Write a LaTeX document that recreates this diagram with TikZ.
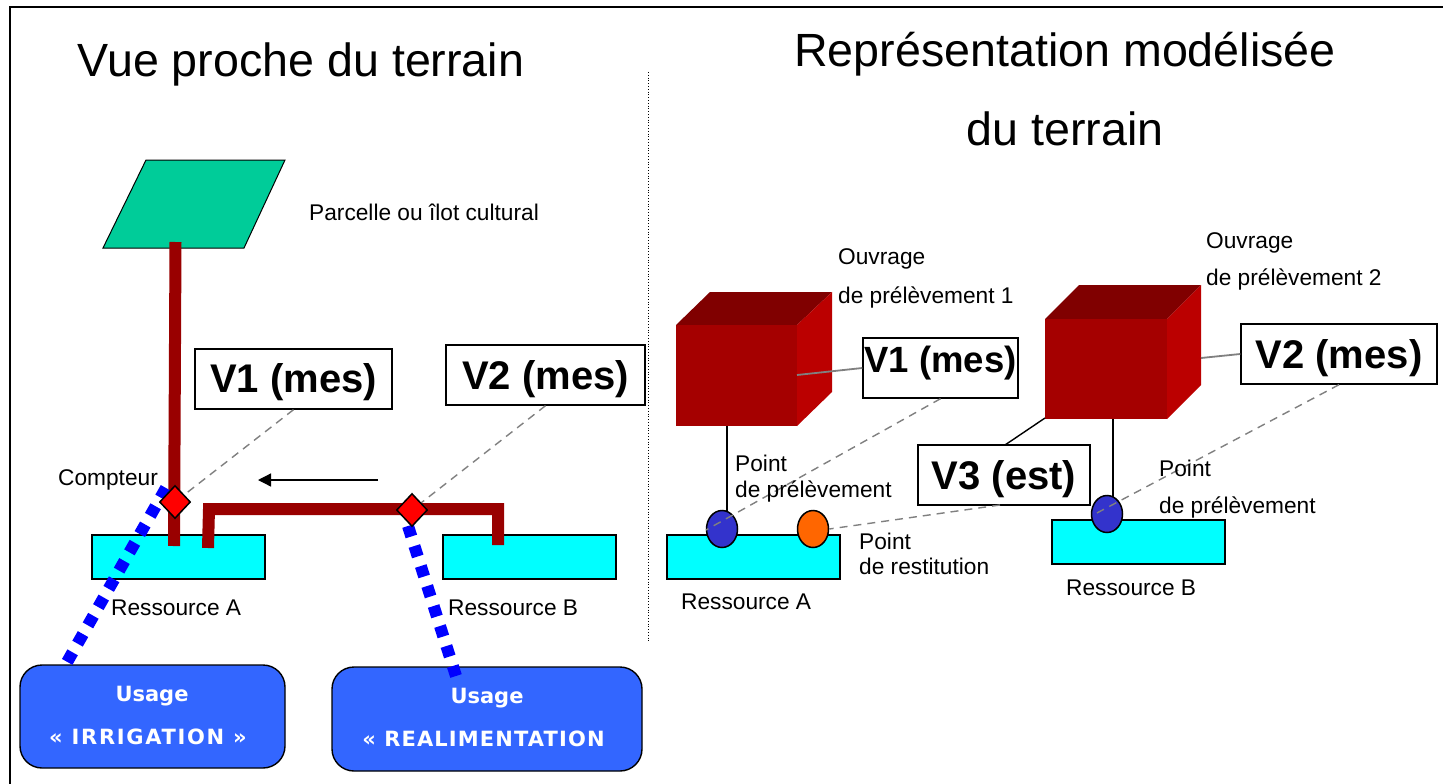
\documentclass[tikz,border=0pt]{standalone}
\usepackage{fontspec}
\setmainfont{Liberation Sans}
\newfontfamily\usagefont{DejaVu Sans}
\usetikzlibrary{shapes.geometric, arrows.meta}
\definecolor{pipered}{HTML}{990000}
\definecolor{parcelgreen}{HTML}{00CC99}
\definecolor{usageblue}{HTML}{3366FF}
\definecolor{pointblue}{HTML}{3333CC}
\definecolor{pointorange}{HTML}{FF6600}
\definecolor{waterblue}{HTML}{00FFFF}
\definecolor{cubefront}{HTML}{A50000}
\definecolor{cubeside}{HTML}{BB0000}
\definecolor{cubetop}{HTML}{800000}
\tikzstyle{title}=[font=\fontsize{46.6}{46.6}\selectfont,inner sep=0pt]
\tikzstyle{label}=[font=\fontsize{22.7}{22.7}\selectfont,anchor=west,inner sep=0pt]
\tikzstyle{resource}=[rectangle,draw=black,line width=2pt,fill=waterblue,minimum width=173,minimum height=44,inner sep=0pt]
\tikzstyle{volume}=[rectangle,draw=black,line width=1.4pt,fill=white,inner sep=0pt,text height=33pt,text depth=5pt,font=\bfseries\fontsize{40}{40}\selectfont]
\tikzstyle{usage}=[rectangle,rounded corners=22,draw=black,line width=1.4pt,fill=usageblue,text=white,inner sep=0pt]
\tikzstyle{usagetext}=[font=\usagefont\bfseries\fontsize{21}{21}\selectfont,text=white,inner sep=0pt]
\tikzstyle{meter}=[diamond,draw=black,line width=1.5pt,fill=red,minimum width=31,minimum height=33,inner sep=0pt]
\tikzstyle{point}=[ellipse,draw=black,line width=1.5pt,minimum width=31,minimum height=37,inner sep=0pt]
\tikzstyle{pipe}=[line width=12pt,draw=pipered]
\tikzstyle{feed}=[line width=12pt,draw=blue,dash pattern=on 11pt off 10pt]
\tikzstyle{link}=[line width=1.4pt,draw=gray,dash pattern=on 8pt off 6pt]
\tikzstyle{wire}=[line width=1.4pt,draw=black]
\tikzstyle{tie}=[line width=1.8pt,draw=gray]
\tikzstyle{arrow}=[line width=1.3pt,-{Triangle[length=13pt,width=13pt]}]

\begin{document}
\begin{tikzpicture}[x=1pt,y=-1pt]
\useasboundingbox (0,0) rectangle (1443,784);
\fill[white] (0,0) rectangle (1443,784);
\draw[line width=1.5pt] (10,784) -- (10,7) -- (1443,7);
\draw[line width=0.8pt,dotted] (648,72) -- (648,642);

\node (titleleft) [title] at (301,64) {Vue proche du terrain};
\node (titleright) [title] at (1065,54.5) {Représentation modélisée};
\node (titleright2) [title] at (1065,129) {du terrain};

% vue proche
\draw[line width=1pt,fill=parcelgreen] (103,248) -- (146,160) -- (285,160) -- (244,248) -- cycle;
\coordinate (parcelfoot) at (175.5,242);
\node (resA) [resource] at (178.5,557) {};
\node (resB) [resource] at (529,557) {};
\coordinate (resAfoot) at (174,546);
\coordinate (resAback) at (208,548);
\coordinate (resBfoot) at (498,545);
\coordinate (pipecornerA) at (209,509);
\coordinate (pipecornerB) at (498,509);
\draw[pipe] (parcelfoot) -- (resAfoot);
\draw[pipe,line join=miter] (resAback) -- (pipecornerA) -- (pipecornerB) -- (resBfoot);

\node (volA) [volume,minimum width=197,minimum height=60,text height=31pt] at (293.5,379) {V1 (mes)};
\node (volB) [volume,minimum width=199,minimum height=60] at (545.5,375) {V2 (mes)};
\coordinate (meterAc) at (175,502);
\coordinate (meterBc) at (412,510);
\draw[link] (volA.south) -- (meterAc);
\draw[link] (volB.south) -- (meterBc);

\node (usageA) [usage,minimum width=265,minimum height=103] at (152.5,716.5) {};
\node (usageB) [usage,minimum width=310,minimum height=104] at (487,719) {};
\node (usageAa) [usagetext] at (152,696) {Usage};
\node (usageAb) [usagetext] at (148,737) {\addfontfeature{LetterSpace=8}« IRRIGATION »};
\node (usageBa) [usagetext] at (487,698) {Usage};
\node (usageBb) [usagetext] at (483.5,739) {\addfontfeature{LetterSpace=5.4}« REALIMENTATION};
\coordinate (feedA) at (166,488);
\coordinate (feedB) at (408,526);
\coordinate (feedAend) at (66,664);
\coordinate (feedBend) at (456,676);
\draw[feed] (feedA) -- (feedAend);
\draw[feed] (feedB) -- (feedBend);
\node (meterA) [meter] at (meterAc) {};
\node (meterB) [meter] at (meterBc) {};

\coordinate (flowstart) at (378,480);
\coordinate (flowend) at (258,480);
\draw[arrow] (flowstart) -- (flowend);

\node (compteur) [label] at (58,480) {Compteur};
\node (parcelle) [label] at (309,212) {Parcelle ou îlot cultural};
\node (nameA) [label] at (111,608) {Ressource A};
\node (nameB) [label] at (448,608) {Ressource B};

% representation modelisee
\node (res2A) [resource] at (753,557) {};
\node (res2B) [resource] at (1138,542) {};

\fill[cubetop] (676,325) -- (710,292) -- (832,292) -- (797,325) -- cycle;
\fill[cubeside] (797,325) -- (832,292) -- (832,392) -- (797,426) -- cycle;
\node (cubeA) [rectangle,fill=cubefront,minimum width=121,minimum height=101,inner sep=0pt] at (736.5,375.5) {};
\fill[cubetop] (1045,319) -- (1079,285) -- (1201,285) -- (1167,319) -- cycle;
\fill[cubeside] (1167,319) -- (1201,285) -- (1201,385) -- (1167,419) -- cycle;
\node (cubeB) [rectangle,fill=cubefront,minimum width=122,minimum height=100,inner sep=0pt] at (1106,369) {};

\node (pointA) [point,fill=pointblue] at (722,529) {};
\node (pointR) [point,fill=pointorange] at (813,529) {};
\node (pointB) [point,fill=pointblue] at (1107,514) {};

\node (vol1) [volume,minimum width=155,minimum height=60,text height=20pt,text depth=11pt,font=\bfseries\fontsize{36.5}{36.5}\selectfont] at (940.5,368) {V1 (mes)};
\node (vol2) [volume,minimum width=196,minimum height=60] at (1339,354) {V2 (mes)};
\node (vol3) [volume,minimum width=172,minimum height=60] at (1004,475) {V3 (est)};

\coordinate (cubeAside) at (797,375);
\coordinate (cubeBside) at (1201,358);
\coordinate (cubeBcorner) at (1045,418);
\coordinate (cubeAfoot) at (727,426);
\coordinate (cubeBfoot) at (1113,419);
\coordinate (pointAtop) at (727,512);
\coordinate (pointBtop) at (1113,497);
\coordinate (vol3wire) at (1005,445);
\coordinate (vol3link) at (1000,505);
\coordinate (pointAin) at (706,530);
\coordinate (pointBin) at (1095,514);
\draw[tie] (cubeAside) -- (vol1.west);
\draw[tie] (cubeBside) -- (vol2.west);
\draw[wire] (cubeBcorner) -- (vol3wire);
\draw[wire] (cubeAfoot) -- (pointAtop);
\draw[wire] (cubeBfoot) -- (pointBtop);
\draw[link] (vol1.south) -- (pointAin);
\draw[link] (vol2.south) -- (pointBin);
\draw[link] (vol3link) -- (pointR.east);

\node (ouvrageA) [label] at (838,259) {Ouvrage};
\node (ouvrageAb) [label] at (838,297) {de prélèvement 1};
\node (ouvrageB) [label] at (1206,243) {Ouvrage};
\node (ouvrageBb) [label] at (1206,279) {de prélèvement 2};
\node (pointAa) [label] at (735,463.5) {Point};
\node (pointAb) [label] at (735,491) {de prélèvement};
\node (pointRa) [label] at (859,541) {Point};
\node (pointRb) [label] at (859,566.5) {de restitution};
\node (pointBa) [label] at (1159,468.5) {Point};
\node (pointBb) [label] at (1159,507) {de prélèvement};
\node (name2A) [label] at (681,602) {Ressource A};
\node (name2B) [label] at (1066,588) {Ressource B};
\end{tikzpicture}
\end{document}
